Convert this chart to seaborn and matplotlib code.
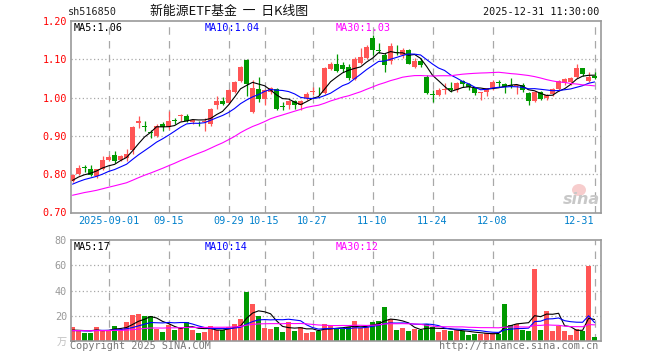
import numpy as np
import pandas as pd
import matplotlib
matplotlib.use("Agg")
import matplotlib.pyplot as plt
import seaborn as sns
from matplotlib.patches import Ellipse

# 日K数据 (2025-08-22 ~ 2025-12-31, 88 个交易日)
opens = [0.781, 0.800, 0.817, 0.813, 0.796, 0.813, 0.837, 0.850, 0.837, 0.843,
         0.863, 0.933, 0.925, 0.910, 0.901, 0.930, 0.923, 0.940, 0.951, 0.953,
         0.936, 0.937, 0.937, 0.930, 0.980, 0.991, 0.986, 1.015, 1.043, 1.098,
         0.962, 1.022, 0.997, 1.015, 1.022, 0.978, 0.980, 0.990, 0.980, 1.000,
         1.015, 1.017, 1.013, 1.075, 1.087, 1.086, 1.081, 1.048, 1.090, 1.104,
         1.155, 1.124, 1.111, 1.095, 1.119, 1.110, 1.124, 1.081, 1.095, 1.054,
         1.009, 1.006, 1.020, 1.024, 1.019, 1.044, 1.035, 1.024, 1.011, 1.015,
         1.024, 1.040, 1.035, 1.033, 1.031, 1.032, 1.013, 0.991, 1.015, 1.000,
         1.009, 1.022, 1.039, 1.041, 1.054, 1.076, 1.043, 1.057]
highs = [0.800, 0.824, 0.824, 0.824, 0.813, 0.848, 0.850, 0.861, 0.850, 0.865,
         0.925, 0.951, 0.940, 0.915, 0.930, 0.937, 0.965, 0.947, 0.958, 0.958,
         0.945, 0.940, 0.947, 0.973, 1.003, 1.002, 1.023, 1.043, 1.083, 1.100,
         1.045, 1.054, 1.022, 1.028, 1.026, 0.988, 0.993, 0.993, 0.993, 1.015,
         1.028, 1.028, 1.081, 1.094, 1.113, 1.092, 1.087, 1.105, 1.129, 1.138,
         1.164, 1.142, 1.116, 1.142, 1.138, 1.129, 1.127, 1.103, 1.103, 1.059,
         1.019, 1.024, 1.037, 1.041, 1.041, 1.047, 1.039, 1.028, 1.015, 1.026,
         1.047, 1.046, 1.039, 1.050, 1.035, 1.037, 1.015, 1.016, 1.017, 1.010,
         1.026, 1.045, 1.050, 1.054, 1.087, 1.078, 1.067, 1.067]
lows = [0.779, 0.798, 0.807, 0.795, 0.791, 0.810, 0.835, 0.830, 0.835, 0.835,
        0.852, 0.921, 0.914, 0.895, 0.896, 0.914, 0.918, 0.930, 0.940, 0.936,
        0.930, 0.927, 0.914, 0.927, 0.971, 0.980, 0.984, 1.012, 1.041, 1.005,
        0.960, 0.988, 0.980, 1.010, 0.968, 0.967, 0.971, 0.971, 0.967, 0.993,
        1.008, 1.008, 1.010, 1.072, 1.068, 1.068, 1.046, 1.045, 1.087, 1.102,
        1.111, 1.116, 1.068, 1.087, 1.111, 1.103, 1.087, 1.076, 1.081, 1.010,
        0.989, 1.004, 1.010, 1.015, 1.015, 1.028, 1.019, 1.006, 0.994, 1.004,
        1.021, 1.028, 1.013, 1.024, 1.010, 1.015, 0.980, 0.989, 0.994, 0.993,
        1.004, 1.018, 1.033, 1.034, 1.052, 1.057, 1.041, 1.048]
closes = [0.798, 0.817, 0.816, 0.798, 0.813, 0.837, 0.845, 0.835, 0.848, 0.853,
          0.924, 0.938, 0.923, 0.907, 0.927, 0.923, 0.940, 0.938, 0.953, 0.940,
          0.942, 0.935, 0.939, 0.971, 0.991, 0.984, 1.019, 1.041, 1.080, 1.035,
          1.024, 0.997, 1.019, 1.024, 0.971, 0.976, 0.991, 0.980, 0.990, 1.010,
          1.018, 1.016, 1.076, 1.087, 1.070, 1.074, 1.050, 1.100, 1.107, 1.133,
          1.125, 1.122, 1.085, 1.136, 1.117, 1.125, 1.089, 1.096, 1.085, 1.013,
          1.007, 1.019, 1.022, 1.019, 1.037, 1.035, 1.028, 1.011, 1.014, 1.024,
          1.041, 1.038, 1.028, 1.031, 1.033, 1.019, 0.991, 1.015, 0.997, 1.006,
          1.022, 1.043, 1.048, 1.052, 1.076, 1.061, 1.054, 1.050]
# 成交量 (万)
volumes = [11.0, 7.8, 6.4, 6.4, 11.0, 8.6, 8.6, 11.8, 8.6, 15.0,
           20.6, 21.4, 19.8, 19.5, 9.4, 7.0, 12.6, 8.6, 11.0, 15.0,
           8.6, 6.4, 7.2, 11.8, 8.6, 8.2, 11.0, 13.4, 17.4, 39.0,
           29.4, 19.8, 9.8, 9.4, 11.0, 7.0, 15.0, 7.8, 11.0, 6.4,
           7.2, 7.8, 13.4, 11.8, 9.4, 9.4, 11.0, 15.8, 9.8, 11.0,
           15.0, 15.8, 27.0, 17.4, 8.6, 10.2, 7.8, 9.4, 8.6, 13.4,
           11.0, 7.0, 8.6, 7.8, 8.6, 7.8, 4.6, 5.4, 5.4, 6.2,
           6.2, 5.4, 29.4, 12.6, 13.4, 8.6, 7.8, 57.4, 8.6, 23.8,
           7.8, 11.8, 7.8, 4.6, 9.4, 7.8, 59.8, 3.0]
# 区间之前的收盘价/成交量, 只用于计算均线
prev_close = [0.712, 0.708, 0.716, 0.721, 0.718, 0.725, 0.722, 0.729, 0.733, 0.728,
              0.735, 0.731, 0.738, 0.742, 0.736, 0.741, 0.745, 0.739, 0.748, 0.744,
              0.752, 0.760, 0.757, 0.771, 0.780, 0.774, 0.786, 0.779, 0.783]
prev_vol = [7.5, 8.2, 6.9, 9.1, 7.8, 8.4, 7.2, 8.8, 9.5, 7.6, 8.1, 6.8, 7.9, 8.6, 9.2,
            7.4, 8.0, 7.1, 8.3, 8.9, 7.7, 8.5, 6.6, 7.3, 8.0, 8.7, 7.5, 7.0, 8.2]

date_labels = ["2025-09-01", "09-15", "09-29", "10-15", "10-27", "11-10", "11-24", "12-08", "12-31"]
date_idx = [6, 16, 26, 32, 40, 50, 60, 70, 87]
price_ticks = [0.70, 0.80, 0.90, 1.00, 1.10, 1.20]
vol_ticks = [0, 20, 40, 60, 80]
vol_tick_labels = ["万", "20", "40", "60", "80"]

RED = "#ff5555"
GREEN = "#009900"
GRID = "#a8a8a8"

sns.set_style("white")
plt.rcParams["font.family"] = ["DejaVu Sans Mono", "Noto Sans CJK SC"]

n = len(closes)
idx = np.arange(n)
df = pd.DataFrame({"idx": idx, "open": opens, "high": highs, "low": lows,
                   "close": closes, "vol": volumes})
df["dir"] = np.where(df["close"] >= df["open"], "up", "down")
df["color"] = np.where(df["dir"] == "up", RED, GREEN)

all_close = pd.Series(prev_close + closes)
all_vol = pd.Series(prev_vol + volumes)
k = len(prev_close)
for w in (5, 10, 30):
    df[f"ma{w}"] = all_close.rolling(w).mean().iloc[k:].to_numpy()
    df[f"vma{w}"] = all_vol.rolling(w).mean().iloc[k:].to_numpy()

W, H = 660, 360
fig = plt.figure(figsize=(6.6, 3.6), dpi=100)
fig.patch.set_facecolor("white")


def fx(px):
    return px / W


def fy(py):
    return 1 - py / H


ax = fig.add_axes([fx(70.6), fy(212.5), 530 / W, 191.5 / H])
axv = fig.add_axes([fx(70.6), fy(340.7), 530 / W, 100.3 / H])

for a in (ax, axv):
    for d in date_idx:
        a.axvline(d, color=GRID, lw=0.9, ls=(0, (6, 5)), zorder=0)
    for s in a.spines.values():
        s.set_color("#999999")
        s.set_linewidth(1.2)
    a.tick_params(length=0)

for p in price_ticks[1:-1]:
    ax.axhline(p, color=GRID, lw=0.9, ls=(0, (1, 2)), zorder=0)
for v in vol_ticks[1:-1]:
    axv.axhline(v, color=GRID, lw=0.9, ls=(0, (1, 2)), zorder=0)

# K线
ax.vlines(df["idx"], df["low"], df["high"], colors=df["color"], lw=0.9, zorder=2)
body_h = np.maximum((df["close"] - df["open"]).abs(), 0.0025)
body_b = np.minimum(df["close"], df["open"])
ax.bar(df["idx"], body_h, bottom=body_b, width=0.82, color=df["color"],
       linewidth=0, zorder=3)

sns.lineplot(data=df, x="idx", y="ma5", color="black", lw=0.8, ax=ax, zorder=4)
sns.lineplot(data=df, x="idx", y="ma10", color="#0000ff", lw=0.8, ax=ax, zorder=4)
sns.lineplot(data=df, x="idx", y="ma30", color="#ff00ff", lw=0.8, ax=ax, zorder=4)

# 成交量
sns.barplot(data=df, x="idx", y="vol", hue="dir", palette={"up": RED, "down": GREEN},
            native_scale=True, dodge=False, width=0.82, saturation=1, errorbar=None,
            legend=False, linewidth=0, ax=axv, zorder=2)
sns.lineplot(data=df, x="idx", y="vma5", color="black", lw=0.8, ax=axv, zorder=4)
sns.lineplot(data=df, x="idx", y="vma10", color="#0000ff", lw=0.8, ax=axv, zorder=4)
sns.lineplot(data=df, x="idx", y="vma30", color="#ff00ff", lw=0.8, ax=axv, zorder=4)

ax.set_xlim(-0.32, 88.0)
ax.set_ylim(0.70, 1.20)
axv.set_xlim(-0.32, 88.0)
axv.set_ylim(0, 80)

ax.set_yticks(price_ticks)
ax.set_yticklabels([f"{p:.2f}" for p in price_ticks], color="#ff0000", fontsize=7.3)
ax.set_xticks(date_idx)
ax.set_xticklabels(date_labels, color="#0080cc", fontsize=7.3)
ax.tick_params(axis="x", pad=2.5)
ax.tick_params(axis="y", pad=2.6)
ax.get_xticklabels()[-1].set_horizontalalignment("right")
ax.get_xticklabels()[-1].set_x(87.4)

axv.set_xticks([])
axv.set_yticks(vol_ticks)
axv.set_yticklabels(vol_tick_labels, color="#999999", fontsize=7.3)
axv.get_yticklabels()[0].set_color("#c0c0c0")
axv.get_yticklabels()[0].set_fontfamily(["Noto Sans CJK SC"])
axv.tick_params(axis="y", pad=2.6)
for a in (ax, axv):
    a.set_xlabel("")
    a.set_ylabel("")

# 文字
fs = 7.3
fig.text(fx(68), fy(12), "sh516850", fontsize=fs, va="center", color="#222222")
fig.text(fx(150), fy(12), "新能源ETF基金  一  日K线图", fontsize=9.3,
         family=["Noto Sans CJK SC", "DejaVu Sans"], va="center", color="#111111")
fig.text(fx(599), fy(12), "2025-12-31 11:30:00", fontsize=fs, va="center",
         ha="right", color="#111111")

fig.text(fx(74), fy(28), "MA5:1.06", fontsize=fs, va="center", color="black")
fig.text(fx(205), fy(28), "MA10:1.04", fontsize=fs, va="center", color="#0000ff")
fig.text(fx(336), fy(28), "MA30:1.03", fontsize=fs, va="center", color="#ff00ff")
fig.text(fx(74), fy(247), "MA5:17", fontsize=fs, va="center", color="black")
fig.text(fx(205), fy(247), "MA10:14", fontsize=fs, va="center", color="#0000ff")
fig.text(fx(336), fy(247), "MA30:12", fontsize=fs, va="center", color="#ff00ff")

fig.text(fx(70), fy(346), "Copyright 2025 SINA.COM", fontsize=fs, va="center",
         color="#777777")
fig.text(fx(598), fy(346), "http://finance.sina.com.cn", fontsize=fs, va="center",
         ha="right", color="#777777")

# 水印
fig.add_artist(Ellipse((fx(579), fy(190)), 14 / W, 12 / H, transform=fig.transFigure,
                       color="#f4b8b8", alpha=0.7, lw=0))
fig.text(fx(581), fy(199), "sina", fontsize=11.5, style="italic", weight="bold",
         family="DejaVu Sans", color="#c8c8c8", ha="center", va="center")

fig.savefig("out.png", dpi=100, facecolor="white")
